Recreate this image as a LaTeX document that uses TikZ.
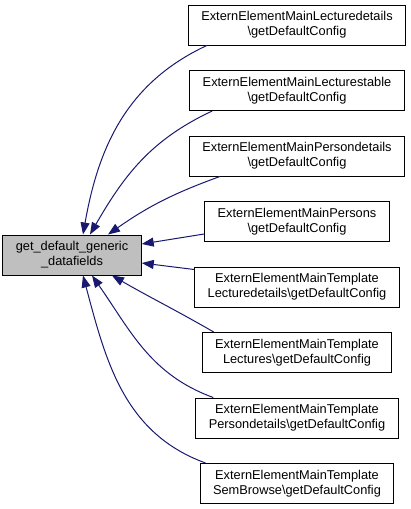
\documentclass[tikz,border=0pt]{standalone}
\usepackage{fontspec}
\setmainfont{Liberation Sans}
\usepackage{tikz}
\usetikzlibrary{positioning,arrows.meta}
\definecolor{linkblue}{HTML}{191970}
\definecolor{focusgray}{HTML}{BFBFBF}

\begin{document}
\begin{tikzpicture}[x=1pt,y=1pt,node distance=65.5pt,on grid,auto,
    every node/.style={font=\fontsize{12.8}{15}\selectfont},
    func/.style={draw,rectangle,line width=1pt,align=center,minimum height=40pt,inner xsep=13pt,inner ysep=2pt},
    link/.style={draw=linkblue,line width=1pt,-{Triangle[length=12pt,width=9pt]}}]
        \useasboundingbox (0,0) rectangle (411,-509);
        \node[func,fill=focusgray] at (72,-255) (fields)   {get\_default\_generic\\\_datafields};
        \node[func] at (297,-25) (lecdet)   {ExternElementMainLecturedetails\\\textbackslash getDefaultConfig};
        \node[func,below of=lecdet] (lectab)   {ExternElementMainLecturestable\\\textbackslash getDefaultConfig};
        \node[func,below of=lectab] (perdet)   {ExternElementMainPersondetails\\\textbackslash getDefaultConfig};
        \node[func,below of=perdet] (persons)   {ExternElementMainPersons\\\textbackslash getDefaultConfig};
        \node[func,below of=persons] (tlecdet)   {ExternElementMainTemplate\\Lecturedetails\textbackslash getDefaultConfig};
        \node[func,below of=tlecdet] (tlec)   {ExternElementMainTemplate\\Lectures\textbackslash getDefaultConfig};
        \node[func,below of=tlec] (tperdet)   {ExternElementMainTemplate\\Persondetails\textbackslash getDefaultConfig};
        \node[func,below of=tperdet] (tsem)   {ExternElementMainTemplate\\SemBrowse\textbackslash getDefaultConfig};
        \path
            ([xshift=19pt]lecdet.south west)
                edge[link,out=205,in=80] ([xshift=11pt]fields.north)
            ([xshift=23pt]lectab.south west)
                edge[link,out=205,in=60] ([xshift=18pt]fields.north)
            ([xshift=31pt]perdet.south west)
                edge[link,out=200,in=35] ([xshift=36pt]fields.north)
            ([yshift=8pt]persons.south west)
                edge[link] ([yshift=11pt]fields.east)
            ([yshift=-3pt]tlecdet.north west)
                edge[link] ([yshift=-8pt]fields.east)
            ([xshift=12pt]tlec.north west)
                edge[link,out=150,in=-30] ([xshift=40pt]fields.south)
            ([xshift=18pt]tperdet.north west)
                edge[link,out=160,in=-55] ([xshift=20pt]fields.south)
            ([xshift=6pt]tsem.north west)
                edge[link,out=160,in=-75] ([xshift=11pt]fields.south);
    \end{tikzpicture}
\end{document}
